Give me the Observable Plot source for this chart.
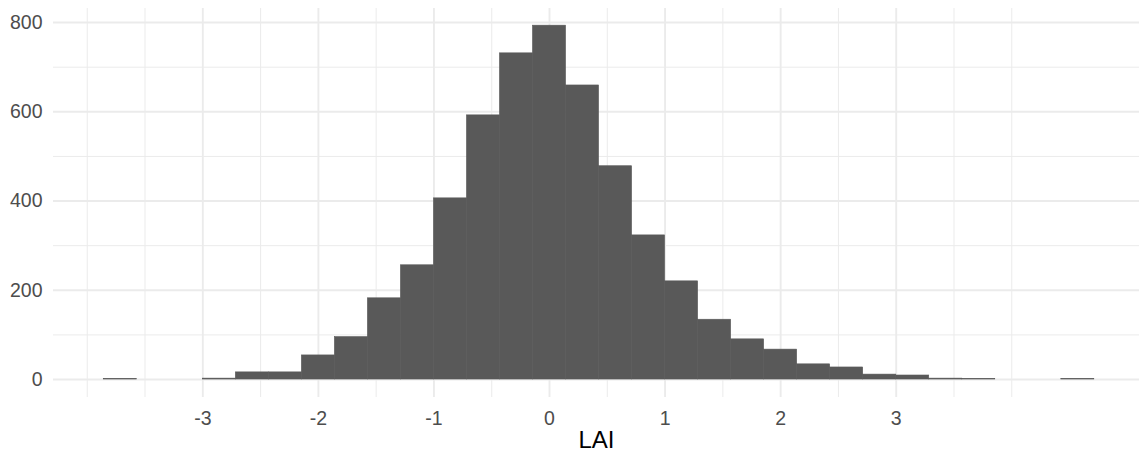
<!DOCTYPE html>
<html>
<head>
<meta charset="utf-8">
<script src="https://cdn.jsdelivr.net/npm/d3@7"></script>
<script src="https://cdn.jsdelivr.net/npm/@observablehq/plot@0.6"></script>
<style>
  html, body { margin: 0; padding: 0; background: #ffffff; }
</style>
</head>
<body>
<div id="chart"></div>
<script>
// Histogram of LAI: 30 bins
const binStart = -3.857;
const binWidth = 0.2857;
const counts = [1, 0, 0, 2, 16, 16, 54, 95, 182, 256, 406, 592, 731, 793, 659, 478, 323, 220, 134, 90, 67, 34, 27, 11, 9, 2, 1, 0, 0, 1];

const xMajorTicks = [-3, -2, -1, 0, 1, 2, 3];
const xMinorTicks = [-4, -3.5, -2.5, -1.5, -0.5, 0.5, 1.5, 2.5, 3.5, 4];
const yMajorTicks = [0, 200, 400, 600, 800];
const yMinorTicks = [100, 300, 500, 700];
const xLabel = "LAI";

const bins = counts.map((c, i) => ({
  x1: binStart + i * binWidth,
  x2: binStart + (i + 1) * binWidth,
  count: c
}));

const chart = Plot.plot({
  width: 1139,
  height: 455,
  marginLeft: 53,
  marginRight: 0,
  marginTop: 8,
  marginBottom: 58,
  style: {fontFamily: "'Liberation Sans', Arial, sans-serif", fontSize: "19.5px", background: "#ffffff"},
  x: {domain: [-4.292, 5.105]},
  y: {domain: [-40.3, 831.5]},
  marks: [
    Plot.ruleX(xMinorTicks, {stroke: "#ebebeb", strokeWidth: 1}),
    Plot.ruleY(yMinorTicks, {stroke: "#ebebeb", strokeWidth: 1}),
    Plot.ruleX(xMajorTicks, {stroke: "#ebebeb", strokeWidth: 1.9}),
    Plot.ruleY(yMajorTicks, {stroke: "#ebebeb", strokeWidth: 1.9}),
    Plot.rectY(bins.filter(d => d.count > 0), {x1: "x1", x2: "x2", y1: 0, y2: "count", fill: "#595959", stroke: "#595959", strokeWidth: 0.6}),
    Plot.axisX({ticks: xMajorTicks, tickSize: 0, tickPadding: 14, label: null, color: "#4d4d4d", tickFormat: d => String(d)}),
    Plot.axisY({ticks: yMajorTicks, tickSize: 0, tickPadding: 11, label: null, color: "#4d4d4d"}),
    Plot.text([xLabel], {frameAnchor: "bottom", dy: 50.5, fontSize: 24, fill: "#000000"})
  ]
});
document.getElementById("chart").appendChild(chart);
</script>
</body>
</html>
